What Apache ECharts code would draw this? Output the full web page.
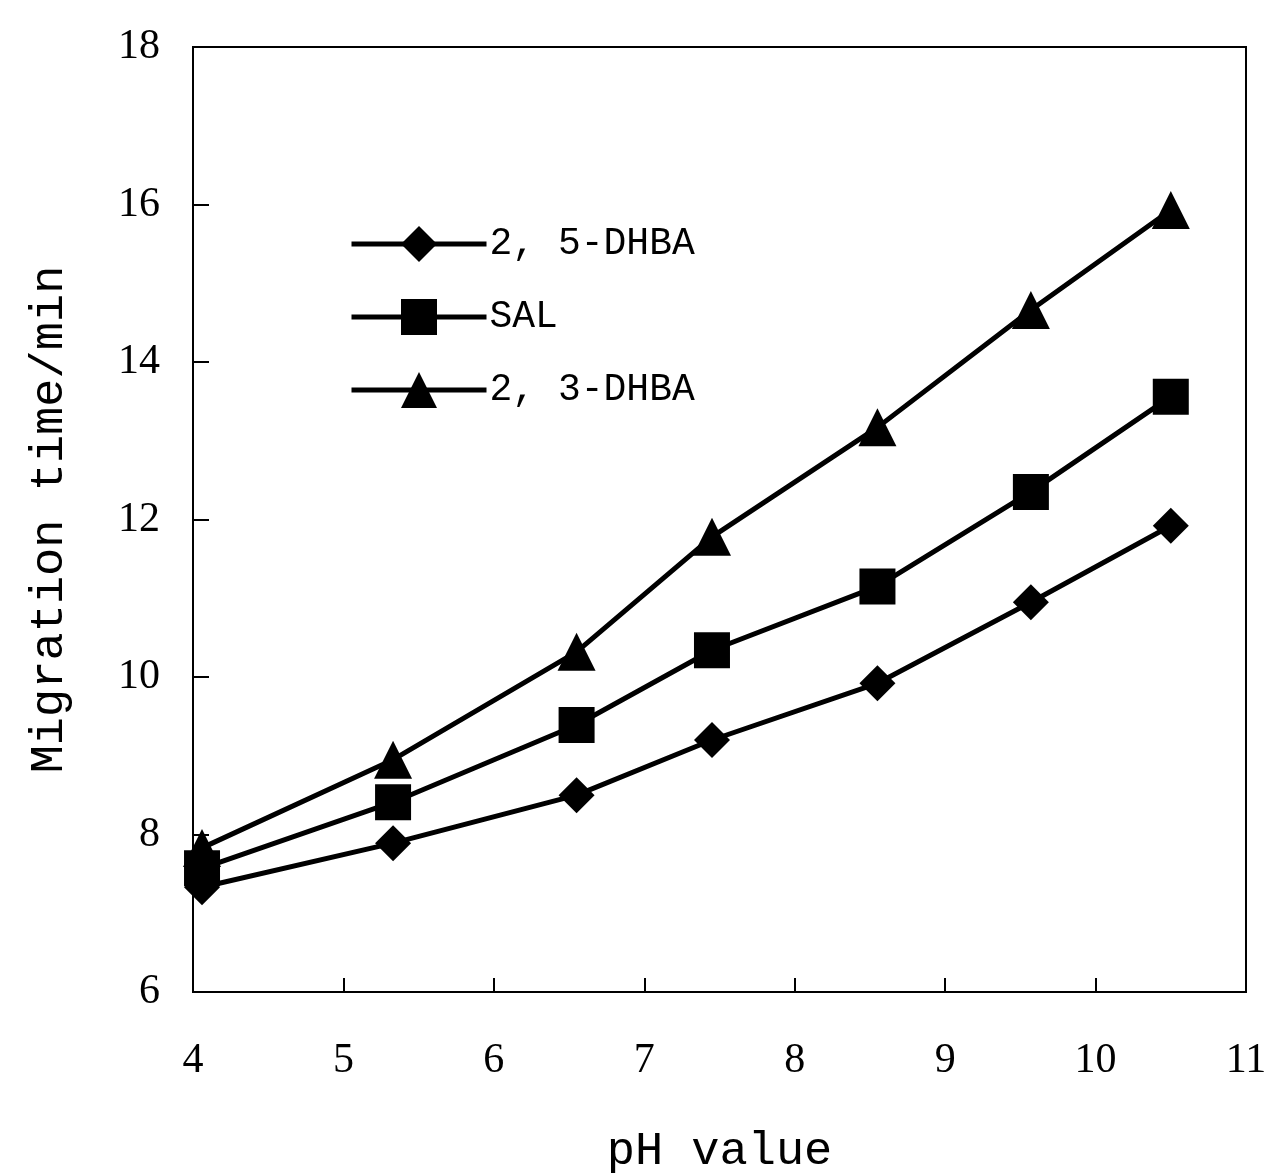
<!DOCTYPE html>
<html>
<head>
<meta charset="utf-8">
<script src="https://cdn.jsdelivr.net/npm/echarts@6/dist/echarts.min.js"></script>
<style>
  html, body { margin: 0; padding: 0; background: #fff; }
  #main { width: 1271px; height: 1173px; }
</style>
</head>
<body>
<div id="main"></div>
<script>
  // pH values (x) and migration times (min)
  var phValues = [4.06, 5.33, 6.55, 7.45, 8.55, 9.57, 10.5]
  var dhba25 = [7.33, 7.89, 8.50, 9.20, 9.92, 10.95, 11.92]
  var sal = [7.57, 8.41, 9.39, 10.34, 11.15, 12.35, 13.56]
  var dhba23 = [7.83, 8.95, 10.32, 11.78, 13.17, 14.66, 15.93]

  var xTicks = [4, 5, 6, 7, 8, 9, 10, 11]
  var yTicks = [6, 8, 10, 12, 14, 16, 18]

  function pairs (ys) {
    return ys.map(function (y, i) { return [phValues[i], y] })
  }

  var chart = echarts.init(document.getElementById("main"))

  var axisFont = "Liberation Serif"
  var monoFont = "Liberation Mono"

  function lineSeries (name, symbol, size, data) {
    return {
      name: name,
      type: "line",
      data: pairs(data),
      symbol: symbol,
      symbolSize: size,
      showAllSymbol: true,
      lineStyle: { color: "#000", width: 5 },
      itemStyle: { color: "#000" },
      emphasis: { disabled: true },
      z: 3
    }
  }

  chart.setOption({
    animation: false,
    backgroundColor: "#fff",
    grid: {
      left: 193,
      right: 25,
      top: 47,
      bottom: 181,
      show: true,
      borderColor: "#000",
      borderWidth: 2,
      containLabel: false,
      outerBoundsMode: "none"
    },
    legend: {
      orient: "vertical",
      left: 344,
      top: 220,
      itemWidth: 135,
      itemHeight: 45,
      itemGap: 35,
      data: ["2, 5-DHBA", "SAL", "2, 3-DHBA"],
      lineStyle: { color: "#000", width: 5 },
      textStyle: { fontFamily: monoFont, fontSize: 38, color: "#000", padding: [0, 0, 0, -2] }
    },
    xAxis: {
      type: "value",
      min: 4,
      max: 11,
      interval: 1,
      name: "pH value",
      nameLocation: "middle",
      nameGap: 136,
      nameTextStyle: { fontFamily: monoFont, fontSize: 47, color: "#000" },
      axisLine: { lineStyle: { color: "#000", width: 2 } },
      axisTick: { inside: true, length: 14, lineStyle: { color: "#000", width: 2 } },
      axisLabel: {
        fontFamily: axisFont, fontSize: 42, color: "#000", margin: 48,
        formatter: function (v) { return xTicks.indexOf(v) >= 0 ? String(v) : "" }
      },
      splitLine: { show: false }
    },
    yAxis: {
      type: "value",
      min: 6,
      max: 18,
      interval: 2,
      name: "Migration time/min",
      nameLocation: "middle",
      nameGap: 120,
      nameTextStyle: { fontFamily: monoFont, fontSize: 47, color: "#000" },
      axisLine: { lineStyle: { color: "#000", width: 2 } },
      axisTick: { inside: true, length: 16, lineStyle: { color: "#000", width: 2 } },
      axisLabel: {
        fontFamily: axisFont, fontSize: 42, color: "#000", margin: 33,
        formatter: function (v) { return yTicks.indexOf(v) >= 0 ? String(v) : "" }
      },
      splitLine: { show: false }
    },
    series: [
      lineSeries("2, 5-DHBA", "diamond", 36, dhba25),
      lineSeries("SAL", "rect", 36, sal),
      lineSeries("2, 3-DHBA", "triangle", 38, dhba23)
    ]
  })
</script>
</body>
</html>
